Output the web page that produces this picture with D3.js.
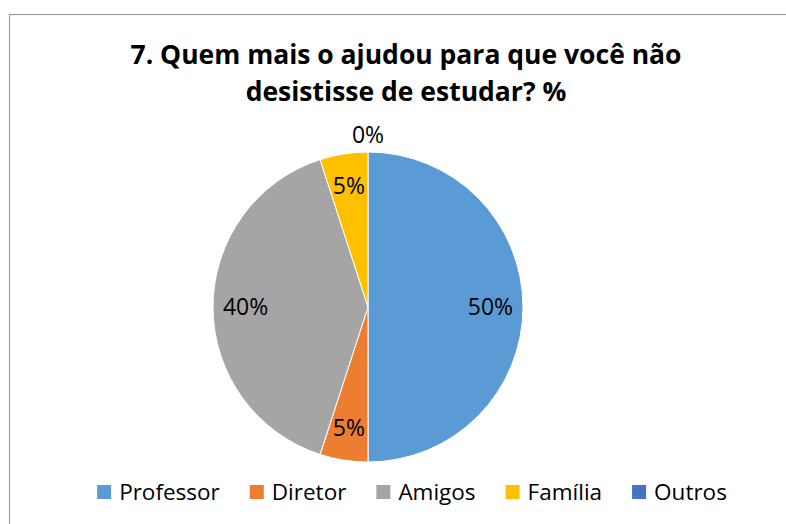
<!DOCTYPE html>
<html>
<head>
<meta charset="utf-8">
<script src="https://cdn.jsdelivr.net/npm/d3@7"></script>
<style>
  body { margin: 0; background: #fff; }
  svg { display: block; font-family: "Open Sans", sans-serif; }
</style>
</head>
<body>
<div id="chart"></div>
<script>
// chart data
var titleLines = ["7. Quem mais o ajudou para que você não", "desistisse de estudar? %"];
var categories = ["Professor", "Diretor", "Amigos", "Família", "Outros"];
var values = [50, 5, 40, 5, 0];
var colors = ["#5B9BD5", "#ED7D31", "#A5A5A5", "#FFC000", "#4472C4"];

var width = 786, height = 524;

var svg = d3.select("#chart")
  .append("svg")
  .attr("width", width)
  .attr("height", height);

// chart area border (runs off the right and bottom)
svg.append("rect")
  .attr("x", 9.5)
  .attr("y", 14.5)
  .attr("width", 900)
  .attr("height", 600)
  .attr("fill", "none")
  .attr("stroke", "#9e9e9e")
  .attr("stroke-width", 1.2);

// title
svg.append("text")
  .attr("text-anchor", "middle")
  .attr("font-weight", "bold")
  .attr("font-size", 26.5)
  .attr("fill", "#000")
  .selectAll("tspan")
  .data(titleLines)
  .enter()
  .append("tspan")
  .attr("x", 406)
  .attr("y", function (d, i) { return 64 + i * 37; })
  .text(function (d) { return d; });

// pie
var cx = 368, cy = 307, radius = 155;
var g = svg.append("g").attr("transform", "translate(" + cx + "," + cy + ")");

var total = d3.sum(values);
var pie = d3.pie().sort(null).value(function (d) { return d; });
var arcs = pie(values);

var arc = d3.arc().innerRadius(0).outerRadius(radius);
var labelArcIn = d3.arc().innerRadius(radius * 0.79).outerRadius(radius * 0.79);
var labelArcOut = d3.arc().innerRadius(radius + 17).outerRadius(radius + 17);

g.selectAll("path")
  .data(arcs)
  .enter()
  .append("path")
  .attr("d", arc)
  .attr("fill", function (d, i) { return colors[i]; })
  .attr("stroke", "#fff")
  .attr("stroke-width", function (d) { return d.value > 0 ? 1 : 0; });

g.selectAll("text.label")
  .data(arcs)
  .enter()
  .append("text")
  .attr("class", "label")
  .attr("transform", function (d) {
    var c = d.value > 0 ? labelArcIn.centroid(d) : labelArcOut.centroid(d);
    return "translate(" + c[0] + "," + c[1] + ")";
  })
  .attr("text-anchor", "middle")
  .attr("dy", "0.35em")
  .attr("font-size", 23)
  .attr("fill", "#000")
  .text(function (d) { return Math.round(d.value / total * 100) + "%"; });

// legend
var legend = svg.append("g");
var box = 14, gapText = 8, gapItem = 30;
var items = legend.selectAll("g")
  .data(categories)
  .enter()
  .append("g");

items.append("rect")
  .attr("width", box)
  .attr("height", box)
  .attr("y", -box / 2)
  .attr("fill", function (d, i) { return colors[i]; });

items.append("text")
  .attr("x", box + gapText)
  .attr("dy", "0.35em")
  .attr("font-size", 22.5)
  .attr("fill", "#000")
  .text(function (d) { return d; });

var xPos = 0;
items.each(function () {
  var w = box + gapText + d3.select(this).select("text").node().getComputedTextLength();
  d3.select(this).attr("transform", "translate(" + xPos + ",0)");
  xPos += w + gapItem;
});
var legendWidth = xPos - gapItem;
legend.attr("transform", "translate(" + (412 - legendWidth / 2) + ",492)");
</script>
</body>
</html>
